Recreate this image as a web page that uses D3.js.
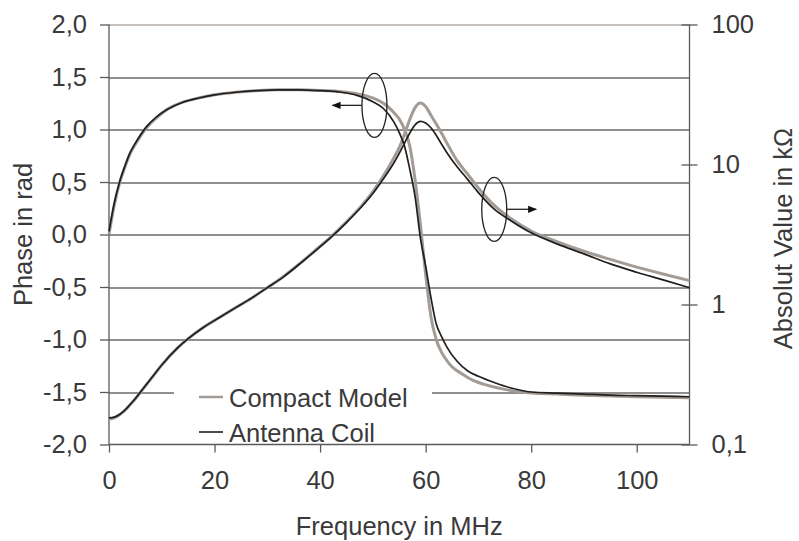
<!DOCTYPE html>
<html lang="en">
<head>
    <meta charset="UTF-8">
    <style>
        body { margin: 0; background: #fff; }
        svg text {
            font-family: "Liberation Sans", Arial, sans-serif;
            font-size: 25.5px;
            fill: #3a3a3a;
        }
    </style>
    <script src="https://d3js.org/d3.v7.min.js"></script>
    <title>Phase and Absolute Value</title>
</head>
<body>
    <svg width="799" height="541"></svg>

    <script>

        // phase in rad, antenna coil (measured)
        var coilPhaseF = [0, 1, 2, 3, 4, 5, 7, 9, 11, 14, 17, 20, 24, 28, 32, 36, 40, 44, 47, 50, 52, 54, 55, 56, 57, 58, 59, 60, 61, 62, 63, 64, 66, 68, 70, 73, 76, 80, 85, 90, 95, 100, 105, 110];
        var coilPhase  = [0.03, 0.30, 0.50, 0.65, 0.78, 0.87, 1.02, 1.12, 1.19, 1.26, 1.30, 1.33, 1.355, 1.37, 1.378, 1.378, 1.37, 1.355, 1.325, 1.265, 1.20, 1.07, 0.97, 0.84, 0.62, 0.36, -0.03, -0.30, -0.60, -0.85, -0.97, -1.07, -1.21, -1.30, -1.35, -1.41, -1.46, -1.50, -1.51, -1.52, -1.53, -1.535, -1.54, -1.545];

        // phase in rad, compact model
        var modelPhaseF = [0, 1, 2, 3, 4, 5, 7, 9, 11, 14, 17, 20, 24, 28, 32, 36, 40, 44, 47, 50, 52, 53, 54, 55, 56, 57, 58, 59, 60, 61, 62, 63, 64, 65, 67, 69, 72, 75, 78, 80, 85, 90, 100, 110];
        var modelPhase  = [0.0, 0.28, 0.49, 0.64, 0.77, 0.86, 1.01, 1.11, 1.19, 1.26, 1.30, 1.33, 1.355, 1.37, 1.378, 1.378, 1.372, 1.36, 1.34, 1.30, 1.25, 1.21, 1.16, 1.10, 1.00, 0.84, 0.52, 0.10, -0.38, -0.78, -1.00, -1.12, -1.20, -1.26, -1.33, -1.39, -1.44, -1.475, -1.50, -1.51, -1.52, -1.53, -1.545, -1.555];

        // absolute value in kOhm, antenna coil
        var coilAbsF = [0, 1, 2, 3, 4, 5, 6, 7, 8, 10, 13, 15, 18, 21, 24, 27, 30, 33, 36, 39, 42, 45, 48, 50, 52, 54, 55, 56, 57, 58, 59, 60, 61, 62, 63, 64, 66, 68, 70, 73, 76, 80, 85, 90, 95, 100, 105, 110];
        var coilAbs  = [0.155, 0.157, 0.164, 0.176, 0.193, 0.213, 0.238, 0.266, 0.297, 0.37, 0.49, 0.57, 0.69, 0.81, 0.95, 1.11, 1.32, 1.57, 1.93, 2.40, 3.0, 3.85, 5.05, 6.2, 7.9, 10.3, 12.0, 14.2, 16.8, 19.2, 20.3, 19.8, 18.3, 16.2, 14.0, 12.2, 9.6, 7.8, 6.3, 4.8, 4.0, 3.25, 2.7, 2.3, 1.95, 1.7, 1.5, 1.32];

        // absolute value in kOhm, compact model
        var modelAbsF = [0, 1, 2, 3, 4, 5, 6, 7, 8, 10, 13, 15, 18, 21, 24, 27, 30, 33, 36, 39, 42, 45, 48, 50, 52, 54, 55, 56, 57, 58, 59, 60, 61, 62, 63, 64, 66, 68, 70, 73, 76, 80, 85, 90, 95, 100, 105, 110];
        var modelAbs  = [0.152, 0.155, 0.163, 0.175, 0.192, 0.212, 0.237, 0.265, 0.296, 0.37, 0.49, 0.57, 0.69, 0.81, 0.95, 1.11, 1.32, 1.58, 1.94, 2.42, 3.03, 3.9, 5.15, 6.4, 8.3, 11.2, 13.2, 16.5, 21.0, 25.5, 27.5, 26.0, 22.5, 19.5, 16.8, 14.3, 10.6, 8.5, 6.8, 5.1, 4.15, 3.35, 2.8, 2.4, 2.1, 1.85, 1.65, 1.48];

        var xTicks = [0, 20, 40, 60, 80, 100];
        var phaseTicks = [-2, -1.5, -1, -0.5, 0, 0.5, 1, 1.5, 2];
        var absTicks = [0.1, 1, 10, 100];
        var legendNames = ["Compact Model", "Antenna Coil"];

        var colModel = "#a39b95",
            colCoil = "#1f1f1f",
            colGrid = "#6a6a6a",
            colAxis = "#5a5a5a";

        var svg = d3.select("svg"),
            margin = {top: 24.5, right: 109.5, bottom: 96.5, left: 109},
            width = +svg.attr("width") - margin.left - margin.right,
            height = +svg.attr("height") - margin.top - margin.bottom;

        var g = svg.append("g")
                   .attr("transform", "translate(" + margin.left + "," + margin.top + ")");

        var x = d3.scaleLinear().domain([0, 110]).range([0, width]);
        var yPhase = d3.scaleLinear().domain([-2, 2]).range([height, 0]);
        var yAbs = d3.scaleLog().domain([0.1, 100]).range([height, 0]);

        // german style: comma decimals, plain hyphen for minus
        var comma = function(d) { return d.toFixed(1).replace(".", ","); };

        // grid lines on the phase ticks
        g.selectAll(".grid")
         .data(phaseTicks.filter(function(d) { return d > -2; }))
         .enter().append("line")
         .attr("x1", 0).attr("x2", width)
         .attr("y1", function(d) { return Math.round(yPhase(d)) + 0.5; })
         .attr("y2", function(d) { return Math.round(yPhase(d)) + 0.5; })
         .attr("stroke", function(d) { return d === 2 ? "#b3aca6" : colGrid; })
         .attr("stroke-width", 1.3);

        // left axis
        var left = g.append("g")
            .call(d3.axisLeft(yPhase).tickValues(phaseTicks).tickFormat(comma).tickSize(9).tickPadding(13));

        // right axis (log)
        var right = g.append("g")
            .attr("transform", "translate(" + width + ",0)")
            .call(d3.axisRight(yAbs).tickValues(absTicks)
                  .tickFormat(function(d) { return String(d).replace(".", ","); })
                  .tickSize(8).tickPadding(14));
        right.selectAll(".tick line").attr("x1", -8);

        // bottom axis
        var bottom = g.append("g")
            .attr("transform", "translate(0," + height + ")")
            .call(d3.axisBottom(x).tickValues(xTicks).tickSize(8).tickPadding(18));

        [left, right, bottom].forEach(function(a) {
            a.select(".domain").attr("stroke", colAxis).attr("stroke-width", 1.3);
            a.selectAll(".tick line").attr("stroke", colAxis).attr("stroke-width", 1.3);
            a.selectAll(".tick text")
             .style("font-family", "'Liberation Sans', Arial, sans-serif")
             .style("font-size", "25.5px")
             .attr("fill", "#3a3a3a");
        });
        left.select(".domain").attr("d", "M0," + height + "V0");
        right.select(".domain").attr("d", "M0," + height + "V0");
        bottom.select(".domain").attr("d", "M0,0H" + width);

        // curves
        var phaseLine = d3.line()
            .x(function(d) { return x(d[0]); })
            .y(function(d) { return yPhase(d[1]); })
            .curve(d3.curveMonotoneX);

        var absLine = d3.line()
            .x(function(d) { return x(d[0]); })
            .y(function(d) { return yAbs(d[1]); })
            .curve(d3.curveMonotoneX);

        var series = [
            {f: modelPhaseF, v: modelPhase, line: phaseLine, color: colModel, w: 3},
            {f: modelAbsF, v: modelAbs, line: absLine, color: colModel, w: 3},
            {f: coilPhaseF, v: coilPhase, line: phaseLine, color: colCoil, w: 1.7},
            {f: coilAbsF, v: coilAbs, line: absLine, color: colCoil, w: 1.7}
        ];

        series.forEach(function(s) {
            g.append("path")
             .datum(d3.zip(s.f, s.v))
             .attr("fill", "none")
             .attr("stroke", s.color)
             .attr("stroke-width", s.w)
             .attr("stroke-linejoin", "round")
             .attr("d", s.line);
        });

        // annotation ellipses with arrows
        svg.append("defs").append("marker")
           .attr("id", "arr")
           .attr("viewBox", "0 0 10 10")
           .attr("refX", 9).attr("refY", 5)
           .attr("markerWidth", 9).attr("markerHeight", 9)
           .attr("markerUnits", "userSpaceOnUse")
           .attr("orient", "auto")
           .append("path").attr("d", "M0,1L10,5L0,9Z").attr("fill", "#111");

        var notes = [
            {f: 50.3, p: 1.23, dir: -1},
            {f: 73.0, p: 0.24, dir: 1}
        ];
        notes.forEach(function(n) {
            var cx = x(n.f), cy = yPhase(n.p);
            g.append("ellipse")
             .attr("cx", cx).attr("cy", cy)
             .attr("rx", 12.5).attr("ry", 32)
             .attr("fill", "none").attr("stroke", "#222").attr("stroke-width", 1.3);
            g.append("line")
             .attr("x1", cx + n.dir * 12.5).attr("y1", cy)
             .attr("x2", cx + n.dir * 42).attr("y2", cy)
             .attr("stroke", "#222").attr("stroke-width", 1.3)
             .attr("marker-end", "url(#arr)");
        });

        // legend
        var legend = svg.append("g").attr("transform", "translate(174,376)");
        legend.append("rect")
              .attr("width", 258).attr("height", 66)
              .attr("fill", "#fff");
        var items = legend.selectAll(".item")
              .data(legendNames)
              .enter().append("g")
              .attr("transform", function(d, i) { return "translate(0," + (21 + i * 35) + ")"; });
        items.append("line")
             .attr("x1", 25).attr("x2", 49)
             .attr("stroke", function(d, i) { return i === 0 ? colModel : colCoil; })
             .attr("stroke-width", function(d, i) { return i === 0 ? 2.5 : 1.6; });
        items.append("text")
             .attr("x", 55).attr("y", 9.5)
             .text(function(d) { return d; });

        // axis titles
        svg.append("text")
           .attr("x", margin.left + width / 2).attr("y", 535)
           .attr("text-anchor", "middle")
           .text("Frequency in MHz");

        svg.append("text")
           .attr("transform", "translate(32," + (margin.top + height / 2) + ") rotate(-90)")
           .attr("text-anchor", "middle")
           .text("Phase in rad");

        svg.append("text")
           .attr("transform", "translate(792," + (margin.top + height / 2 + 4) + ") rotate(-90)")
           .attr("text-anchor", "middle")
           .text("Absolut Value in k\u03A9");

    </script>
</body>
</html>
